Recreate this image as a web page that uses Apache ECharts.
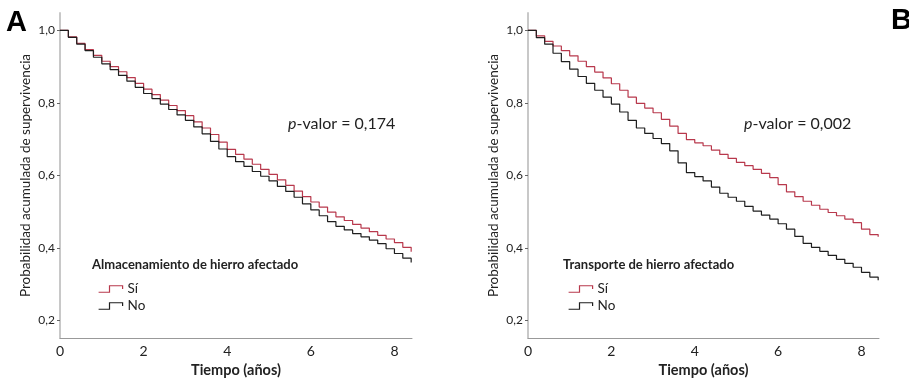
<!DOCTYPE html>
<html>
<head>
<meta charset="utf-8">
<script src="https://cdn.jsdelivr.net/npm/echarts@6/dist/echarts.min.js"></script>
<style>
  html, body { margin: 0; padding: 0; background: #fff; }
  #chart { width: 909px; height: 383px; }
</style>
</head>
<body>
<div id="chart"></div>
<script>
// tiempo en años (cada 0,2)
const tiempos = [0, 0.2, 0.4, 0.6, 0.8, 1.0, 1.2, 1.4, 1.6, 1.8, 2.0, 2.2, 2.4, 2.6, 2.8,
  3.0, 3.2, 3.4, 3.6, 3.8, 4.0, 4.2, 4.4, 4.6, 4.8, 5.0, 5.2, 5.4, 5.6, 5.8, 6.0,
  6.2, 6.4, 6.6, 6.8, 7.0, 7.2, 7.4, 7.6, 7.8, 8.0, 8.2, 8.4];

// A: almacenamiento de hierro afectado
const almacenSi = [1.000, 0.982, 0.964, 0.947, 0.931, 0.915, 0.900, 0.886, 0.870, 0.854, 0.838,
  0.823, 0.808, 0.793, 0.779, 0.765, 0.748, 0.731, 0.713, 0.692, 0.672, 0.658, 0.645, 0.631,
  0.617, 0.603, 0.588, 0.573, 0.557, 0.542, 0.527, 0.513, 0.499, 0.486, 0.476, 0.465, 0.455,
  0.445, 0.435, 0.425, 0.415, 0.402, 0.390];
const almacenNo = [1.000, 0.981, 0.962, 0.944, 0.926, 0.908, 0.892, 0.876, 0.860, 0.843, 0.826,
  0.812, 0.797, 0.782, 0.767, 0.752, 0.734, 0.715, 0.694, 0.673, 0.652, 0.638, 0.625, 0.611,
  0.598, 0.585, 0.570, 0.556, 0.540, 0.522, 0.505, 0.489, 0.473, 0.460, 0.450, 0.440, 0.431,
  0.422, 0.412, 0.398, 0.385, 0.372, 0.360];

// B: transporte de hierro afectado
const transpSi = [1.000, 0.985, 0.970, 0.957, 0.944, 0.930, 0.915, 0.900, 0.885, 0.869, 0.853,
  0.835, 0.816, 0.799, 0.786, 0.773, 0.755, 0.736, 0.716, 0.699, 0.690, 0.682, 0.670, 0.658,
  0.647, 0.636, 0.627, 0.617, 0.606, 0.594, 0.575, 0.555, 0.542, 0.529, 0.518, 0.507, 0.498,
  0.489, 0.480, 0.470, 0.452, 0.437, 0.431];
const transpNo = [1.000, 0.980, 0.962, 0.937, 0.914, 0.893, 0.873, 0.854, 0.835, 0.816, 0.797,
  0.775, 0.752, 0.731, 0.716, 0.702, 0.688, 0.668, 0.635, 0.608, 0.597, 0.585, 0.568, 0.551,
  0.540, 0.529, 0.515, 0.502, 0.491, 0.480, 0.467, 0.452, 0.432, 0.413, 0.402, 0.391, 0.380,
  0.369, 0.358, 0.347, 0.333, 0.320, 0.311];

const ticksX = [0, 2, 4, 6, 8];
const ticksY = [0.2, 0.4, 0.6, 0.8, 1.0];

const FONT = 'Lato';
const ROJO = '#b8384c';
const NEGRO = '#1e1e1e';

const chart = echarts.init(document.getElementById('chart'));

const pares = (ys) => tiempos.map((t, i) => [t, ys[i]]);

const ejeX = (grid) => ({
  type: 'value',
  gridIndex: grid,
  min: 0,
  max: 8.42,
  name: 'Tiempo (años)',
  nameLocation: 'middle',
  nameGap: 25,
  nameTextStyle: { fontFamily: FONT, fontWeight: 'bold', fontSize: 14.5, color: '#222' },
  axisLine: { lineStyle: { color: '#999', width: 1 } },
  axisTick: { show: false },
  axisLabel: { customValues: ticksX, fontFamily: FONT, fontSize: 14, color: '#222', margin: 6 },
  splitLine: { show: false },
});

const ejeY = (grid) => ({
  type: 'value',
  gridIndex: grid,
  min: 0.152,
  max: 1.048,
  name: 'Probabilidad acumulada de supervivencia',
  nameLocation: 'middle',
  nameGap: 27,
  nameTextStyle: { fontFamily: FONT, fontSize: 13.5, color: '#222' },
  axisLine: { show: true, lineStyle: { color: '#c8c8c8', width: 2 } },
  axisTick: { show: true, customValues: ticksY, length: 3, lineStyle: { color: '#666' } },
  axisLabel: {
    customValues: ticksY,
    fontFamily: FONT,
    fontSize: 12,
    color: '#222',
    margin: 5,
    formatter: (v) => v.toFixed(1).replace('.', ','),
  },
  splitLine: { show: false },
});

const serie = (name, ys, idx, color) => ({
  name,
  type: 'line',
  xAxisIndex: idx,
  yAxisIndex: idx,
  step: 'end',
  showSymbol: false,
  symbol: 'none',
  lineStyle: { color, width: 1.2 },
  itemStyle: { color },
  data: pares(ys),
});

const iconoPaso = 'path://M0,7 L10,7 L10,1 L22,1 L22,4';

const leyenda = (left) => ({
  data: [
    { name: 'Sí', itemStyle: { color: 'transparent', borderColor: ROJO, borderWidth: 1.2 } },
    { name: 'No', itemStyle: { color: 'transparent', borderColor: NEGRO, borderWidth: 1.2 } },
  ],
  orient: 'vertical',
  left,
  top: 282,
  padding: 0,
  itemWidth: 24,
  itemHeight: 7,
  itemGap: 3,
  icon: iconoPaso,
  textStyle: { fontFamily: FONT, fontSize: 13.5, color: '#222' },
  selectedMode: false,
});

const texto = (x, y, text, extra) => ({
  type: 'text',
  left: x,
  top: y,
  style: Object.assign({ text, fontFamily: FONT, fill: '#222' }, extra),
});

chart.setOption({
  animation: false,
  grid: [
    { left: 60, top: 13, width: 352, height: 335 },
    { left: 528, top: 13, width: 351, height: 335 },
  ],
  xAxis: [ejeX(0), ejeX(1)],
  yAxis: [ejeY(0), ejeY(1)],
  legend: [leyenda(98), leyenda(568)],
  series: [
    serie('Sí', almacenSi, 0, ROJO),
    serie('No', almacenNo, 0, NEGRO),
    serie('Sí', transpSi, 1, ROJO),
    serie('No', transpNo, 1, NEGRO),
  ],
  graphic: [
    texto(6, 8, 'A', { fontFamily: 'Liberation Sans', fontWeight: 'bold', fontSize: 29, fill: '#000' }),
    texto(891, 6, 'B', { fontFamily: 'Liberation Sans', fontWeight: 'bold', fontSize: 29, fill: '#000' }),
    texto(92, 258, 'Almacenamiento de hierro afectado', { fontWeight: 'bold', fontSize: 13 }),
    texto(563, 258, 'Transporte de hierro afectado', { fontWeight: 'bold', fontSize: 13 }),
    {
      type: 'text', left: 288, top: 116,
      style: {
        text: '{i|p}-valor = 0,174', fontFamily: FONT, fontSize: 16, fill: '#222',
        rich: { i: { fontStyle: 'italic', fontFamily: FONT, fontSize: 16, fill: '#222' } },
      },
    },
    {
      type: 'text', left: 744, top: 116,
      style: {
        text: '{i|p}-valor = 0,002', fontFamily: FONT, fontSize: 16, fill: '#222',
        rich: { i: { fontStyle: 'italic', fontFamily: FONT, fontSize: 16, fill: '#222' } },
      },
    },
  ],
});

window.addEventListener('resize', () => chart.resize());
</script>
</body>
</html>
